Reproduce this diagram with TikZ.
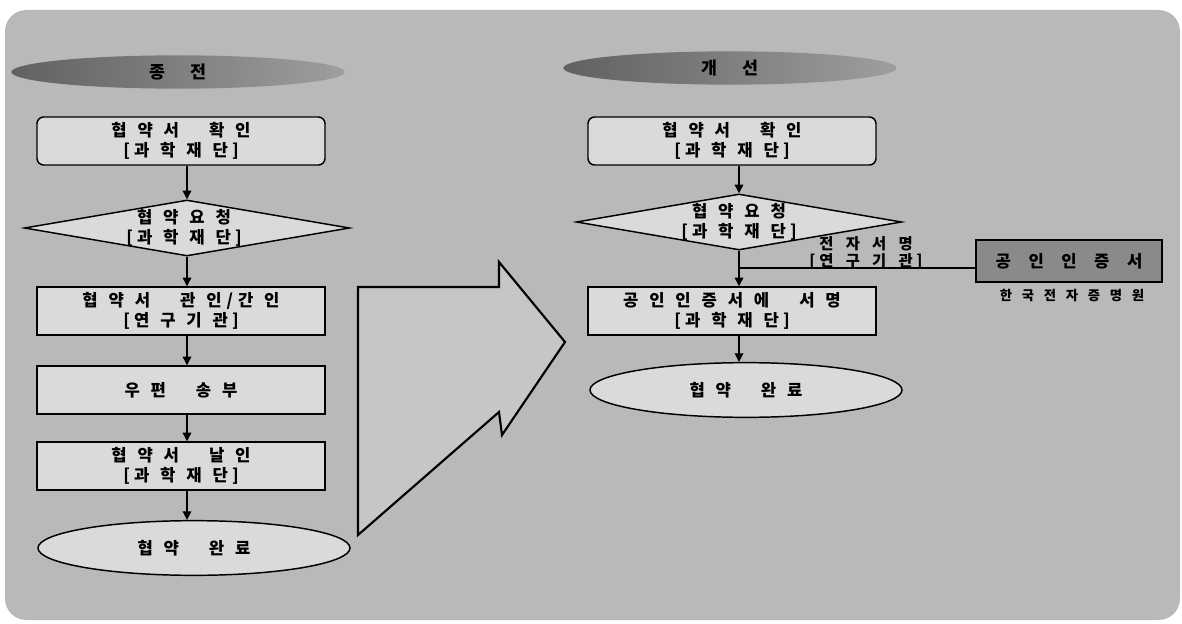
\documentclass[tikz,border=0pt]{standalone}
\usepackage{fontspec}
\newfontfamily\kr{Noto Sans CJK KR}
\usetikzlibrary{shapes.geometric,arrows.meta}
\definecolor{bgc}{HTML}{B9B9B9}
\definecolor{boxc}{HTML}{DADADA}
\definecolor{arrc}{HTML}{C6C6C6}
\definecolor{certc}{HTML}{8A8A8A}
\newcommand{\g}{\hspace{0.65em}}
\newcommand{\D}{\hspace{1.8em}}
\newcommand{\G}{\hspace{1.4em}}
\newcommand{\bo}{\hspace{0.25em}}
\begin{document}
\begin{tikzpicture}[x=0.75pt,y=-0.75pt,
  every node/.style={font=\kr\bfseries\fontsize{12.5}{14.5}\selectfont, align=center, inner sep=0pt},
  box/.style={draw, line width=1.1pt, fill=boxc, minimum width=216pt, minimum height=36pt},
  rbox/.style={box, rounded corners=5pt},
  dia/.style={draw, line width=1.1pt, fill=boxc, diamond, aspect=5.8, minimum width=244pt, minimum height=42pt},
  ell/.style={draw, line width=1.1pt, fill=boxc, ellipse, minimum width=234pt, minimum height=41pt},
  ttl/.style={ellipse, left color=black!62, right color=black!38, minimum width=250pt, minimum height=25pt, font=\kr\bfseries\fontsize{13}{14}\selectfont},
  arr/.style={-{Triangle[length=6.5pt,width=6.5pt]}, line width=1pt},
  ln/.style={line width=1pt}]
\useasboundingbox (0,0) rectangle (1182,624);
\fill[bgc, rounded corners=16pt] (5,10) rectangle (1180,620);
% big arrow
\draw[line width=1.6pt, fill=arrc, line join=miter] (358,287) -- (499,287) -- (499,262) -- (565,342) -- (502,435) -- (499,412) -- (358,535) -- cycle;
% left column
\node[ttl] (t1) at (178,72) {종\G 전};
\node[rbox] (b1) at (181,141) {협\g 약\g 서\D 확\g 인\\{[}\bo 과\g 학\g 재\g 단\bo ]};
\node[dia] (d1) at (187,228) {};
\node (d1t) at (184,228) {협\g 약\g 요\g 청\\{[}\bo 과\g 학\g 재\g 단\bo ]};
\node[box] (b3) at (181,311) {협\g 약\g 서\D 관\g 인\hspace{0.3em}/\hspace{0.3em}간\g 인\\{[}\bo 연\g 구\g 기\g 관\bo ]};
\node[box] (b4) at (181,390) {우\g 편\D 송\g 부};
\node[box] (b5) at (181,466) {협\g 약\g 서\D 날\g 인\\{[}\bo 과\g 학\g 재\g 단\bo ]};
\node[ell] (e1) at (194,548) {협\g 약\D 완\g 료};
\draw[arr] (b1.south -| d1) -- (d1.north);
\draw[arr] (d1.south) -- (b3.north -| d1);
\draw[arr] (b3.south -| d1) -- (b4.north -| d1);
\draw[arr] (b4.south -| d1) -- (b5.north -| d1);
\draw[arr] (b5.south -| d1) -- (e1.north -| d1);
% right column
\node[ttl] (t2) at (730,68) {개\G 선};
\node[rbox] (c1) at (732,141) {협\g 약\g 서\D 확\g 인\\{[}\bo 과\g 학\g 재\g 단\bo ]};
\node[dia] (d2) at (739,222) {};
\node (d2t) at (739,222) {협\g 약\g 요\g 청\\{[}\bo 과\g 학\g 재\g 단\bo ]};
\node[box] (c3) at (732,311) {공\g 인\g 인\g 증\g 서\g 에\D 서\g 명\\{[}\bo 과\g 학\g 재\g 단\bo ]};
\node[ell] (e2) at (746,390) {협\g 약\D 완\g 료};
\node[draw, line width=1.3pt, fill=certc, minimum width=140pt, minimum height=31pt] (cert) at (1069,261) {공\hspace{1.05em}인\hspace{1.05em}인\hspace{1.05em}증\hspace{1.05em}서};
\node[font=\kr\bfseries\fontsize{10}{11}\selectfont] (org) at (1072,296) {한\hspace{0.73em}국\hspace{0.73em}전\hspace{0.73em}자\hspace{0.73em}증\hspace{0.73em}명\hspace{0.73em}원};
\coordinate (j) at (739,268);
\node[font=\kr\bfseries\fontsize{11.5}{12.5}\selectfont] (lab) at (866,253) {전\hspace{0.8em}자\hspace{0.8em}서\hspace{0.8em}명\\{[}\bo 연\hspace{0.8em}구\hspace{0.8em}기\hspace{0.8em}관\bo ]};
\draw[arr] (c1.south -| d2) -- (d2.north);
\draw[arr] (d2.south) -- (c3.north -| d2);
\draw[arr] (c3.south -| d2) -- (e2.north -| d2);
\draw[ln] (cert.west |- j) -- (j);
\end{tikzpicture}
\end{document}
